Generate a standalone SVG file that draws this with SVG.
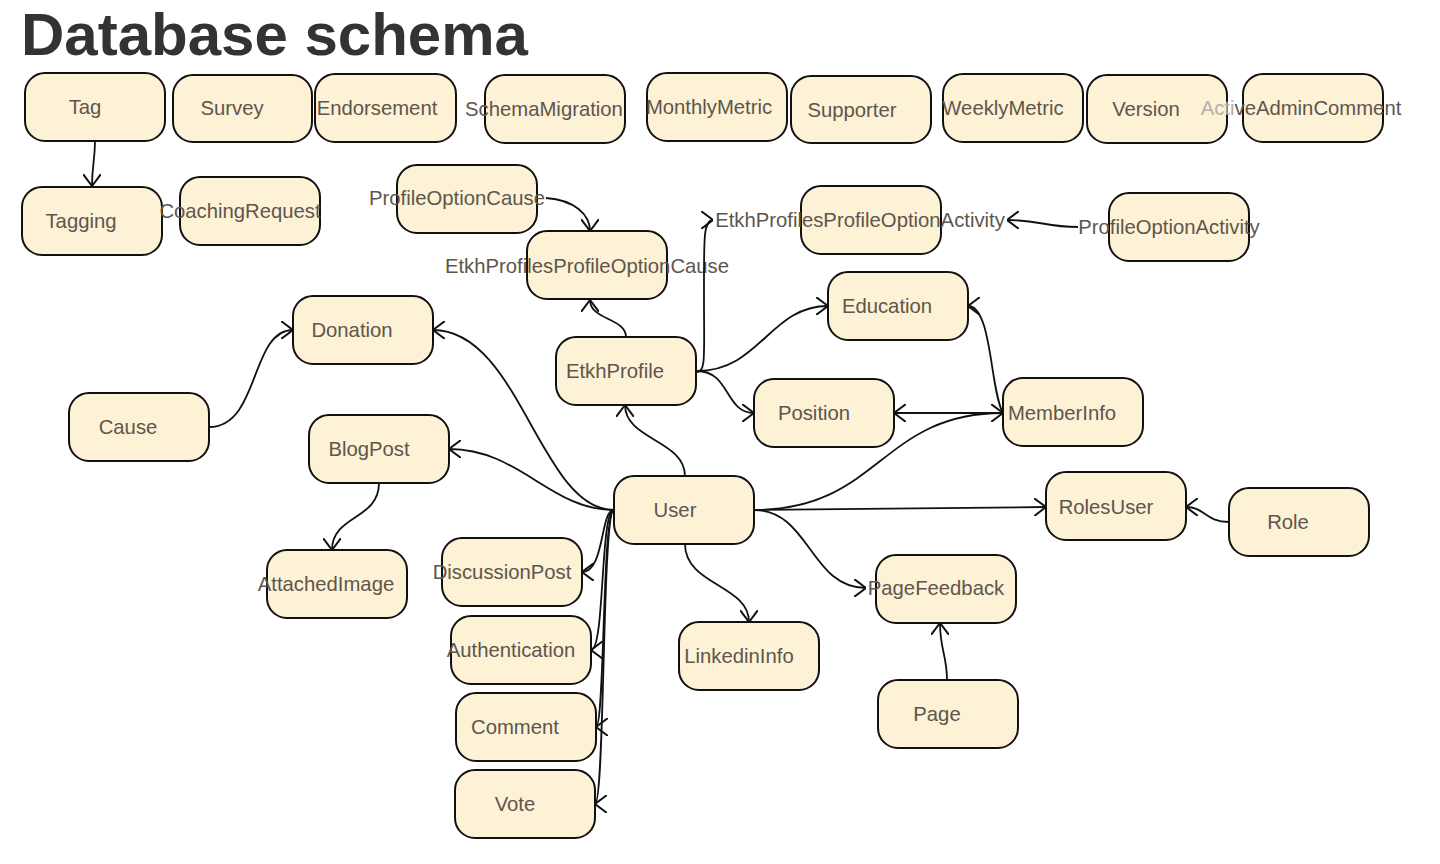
<svg xmlns="http://www.w3.org/2000/svg" width="1440" height="864" viewBox="0 0 1440 864">
  <style>
    .box { fill: #fdf1d6; stroke: #111; stroke-width: 2; }
    .lbl { font-family: "Liberation Sans", Arial, sans-serif; font-size: 20.3px; fill: #5e564c; text-anchor: middle; }
    .title { font-family: "Liberation Sans", Arial, sans-serif; font-size: 60px; font-weight: bold; fill: #333; }
    .edge { fill: none; stroke: #111; stroke-width: 1.8; marker-end: url(#open); }
  </style>
  <defs>
    <marker id="open" viewBox="0 0 12 18" refX="12" refY="9" markerWidth="12" markerHeight="18" markerUnits="userSpaceOnUse" orient="auto">
      <path d="M0,0 L12,9 L0,18" fill="none" stroke="#111" stroke-width="2"/>
    </marker>
  </defs>
  <rect width="1440" height="864" fill="#fff"/>
  <text class="title" x="21" y="55">Database schema</text>

  <!-- tables -->
  <g id="Tag"><rect class="box" x="25" y="73" width="140" height="68" rx="20"/><text class="lbl" x="85" y="114">Tag</text></g>
  <g id="Survey"><rect class="box" x="173" y="75" width="139" height="67" rx="20"/><text class="lbl" x="232" y="115">Survey</text></g>
  <g id="Endorsement"><rect class="box" x="315" y="74" width="141" height="68" rx="20"/><text class="lbl" x="377" y="115">Endorsement</text></g>
  <g id="SchemaMigration"><rect class="box" x="485" y="75" width="140" height="68" rx="20"/><text class="lbl" x="544" y="116">SchemaMigration</text></g>
  <g id="MonthlyMetric"><rect class="box" x="647" y="73" width="140" height="68" rx="20"/><text class="lbl" x="709" y="114">MonthlyMetric</text></g>
  <g id="Supporter"><rect class="box" x="791" y="76" width="140" height="67" rx="20"/><text class="lbl" x="852" y="117">Supporter</text></g>
  <g id="WeeklyMetric"><rect class="box" x="943" y="74" width="140" height="68" rx="20"/><text class="lbl" x="1003" y="115">WeeklyMetric</text></g>
  <g id="Version"><rect class="box" x="1087" y="75" width="140" height="68" rx="20"/><text class="lbl" x="1146" y="116">Version</text></g>
  <g id="ActiveAdminComment"><rect class="box" x="1243" y="74" width="140" height="68" rx="20"/><text class="lbl" x="1301" y="115"><tspan fill="#b5afa6">Acti</tspan>veAdminComment</text></g>

  <g id="Tagging"><rect class="box" x="22" y="187" width="140" height="68" rx="20"/><text class="lbl" x="81" y="228">Tagging</text></g>
  <g id="CoachingRequest"><rect class="box" x="180" y="177" width="140" height="68" rx="20"/><text class="lbl" x="240" y="218">CoachingRequest</text></g>
  <g id="ProfileOptionCause"><rect class="box" x="397" y="165" width="140" height="68" rx="20"/><text class="lbl" x="457" y="205">ProfileOptionCause</text></g>
  <g id="EtkhProfilesProfileOptionCause"><rect class="box" x="527" y="231" width="140" height="68" rx="20"/><text class="lbl" x="587" y="273">EtkhProfilesProfileOptionCause</text></g>
  <g id="EtkhProfilesProfileOptionActivity"><rect class="box" x="801" y="186" width="140" height="68" rx="20"/><text class="lbl" x="860" y="227">EtkhProfilesProfileOptionActivity</text></g>
  <g id="ProfileOptionActivity"><rect class="box" x="1109" y="193" width="140" height="68" rx="20"/><text class="lbl" x="1169" y="234">ProfileOptionActivity</text></g>
  <g id="Education"><rect class="box" x="828" y="272" width="140" height="68" rx="20"/><text class="lbl" x="887" y="313">Education</text></g>
  <g id="Donation"><rect class="box" x="293" y="296" width="140" height="68" rx="20"/><text class="lbl" x="352" y="337">Donation</text></g>
  <g id="EtkhProfile"><rect class="box" x="556" y="337" width="140" height="68" rx="20"/><text class="lbl" x="615" y="378">EtkhProfile</text></g>
  <g id="Cause"><rect class="box" x="69" y="393" width="140" height="68" rx="20"/><text class="lbl" x="128" y="434">Cause</text></g>
  <g id="Position"><rect class="box" x="754" y="379" width="140" height="68" rx="20"/><text class="lbl" x="814" y="420">Position</text></g>
  <g id="MemberInfo"><rect class="box" x="1003" y="378" width="140" height="68" rx="20"/><text class="lbl" x="1062" y="420">MemberInfo</text></g>
  <g id="BlogPost"><rect class="box" x="309" y="415" width="140" height="68" rx="20"/><text class="lbl" x="369" y="456">BlogPost</text></g>
  <g id="User"><rect class="box" x="614" y="476" width="140" height="68" rx="20"/><text class="lbl" x="675" y="517">User</text></g>
  <g id="RolesUser"><rect class="box" x="1046" y="472" width="140" height="68" rx="20"/><text class="lbl" x="1106" y="514">RolesUser</text></g>
  <g id="Role"><rect class="box" x="1229" y="488" width="140" height="68" rx="20"/><text class="lbl" x="1288" y="529">Role</text></g>
  <g id="AttachedImage"><rect class="box" x="267" y="550" width="140" height="68" rx="20"/><text class="lbl" x="326" y="591">AttachedImage</text></g>
  <g id="DiscussionPost"><rect class="box" x="442" y="538" width="140" height="68" rx="20"/><text class="lbl" x="502" y="579">DiscussionPost</text></g>
  <g id="PageFeedback"><rect class="box" x="876" y="555" width="140" height="68" rx="20"/><text class="lbl" x="936" y="595">PageFeedback</text></g>
  <g id="Authentication"><rect class="box" x="451" y="616" width="140" height="68" rx="20"/><text class="lbl" x="511" y="657">Authentication</text></g>
  <g id="LinkedinInfo"><rect class="box" x="679" y="622" width="140" height="68" rx="20"/><text class="lbl" x="739" y="663">LinkedinInfo</text></g>
  <g id="Page"><rect class="box" x="878" y="680" width="140" height="68" rx="20"/><text class="lbl" x="937" y="721">Page</text></g>
  <g id="Comment"><rect class="box" x="456" y="693" width="140" height="68" rx="20"/><text class="lbl" x="515" y="734">Comment</text></g>
  <g id="Vote"><rect class="box" x="455" y="770" width="140" height="68" rx="20"/><text class="lbl" x="515" y="811">Vote</text></g>

  <!-- relations -->
  <g id="connectors">
    <path class="edge" d="M95,141 C95,160 92,165 92,186"/>
    <path class="edge" d="M546,198 C575,200 590,215 590,231"/>
    <path class="edge" d="M626,337 C626,318 590,320 590,300"/>
    <path class="edge" d="M697,372 C706,372 704,355 704,300 C704,240 703,220 713,220"/>
    <path class="edge" d="M1078,227 C1045,227 1040,220 1007,220"/>
    <path class="edge" d="M697,371 C760,371 770,306 828,306"/>
    <path class="edge" d="M697,371 C730,371 725,413 754,413"/>
    <path class="edge" d="M1003,413 C990,390 992,306 968,306"/>
    <path class="edge" d="M1003,413 L894,413"/>
    <path class="edge" d="M754,510 C880,510 880,413 1003,413"/>
    <path class="edge" d="M685,476 C685,440 625,440 625,405"/>
    <path class="edge" d="M614,510 C540,510 520,330 433,330"/>
    <path class="edge" d="M614,510 C550,510 520,449 449,449"/>
    <path class="edge" d="M614,510 C600,510 605,572 582,572"/>
    <path class="edge" d="M614,510 C600,510 605,650 591,650"/>
    <path class="edge" d="M614,510 C602,510 605,727 596,727"/>
    <path class="edge" d="M614,510 C602,510 605,804 595,804"/>
    <path class="edge" d="M685,544 C685,585 749,585 749,622"/>
    <path class="edge" d="M754,510 C810,510 810,588 866,588"/>
    <path class="edge" d="M754,510 L1046,507"/>
    <path class="edge" d="M1229,522 C1205,522 1205,507 1186,507"/>
    <path class="edge" d="M947,680 C947,655 940,650 940,623"/>
    <path class="edge" d="M209,427 C260,427 250,330 293,330"/>
    <path class="edge" d="M379,483 C379,520 332,515 332,550"/>
  </g>
</svg>
